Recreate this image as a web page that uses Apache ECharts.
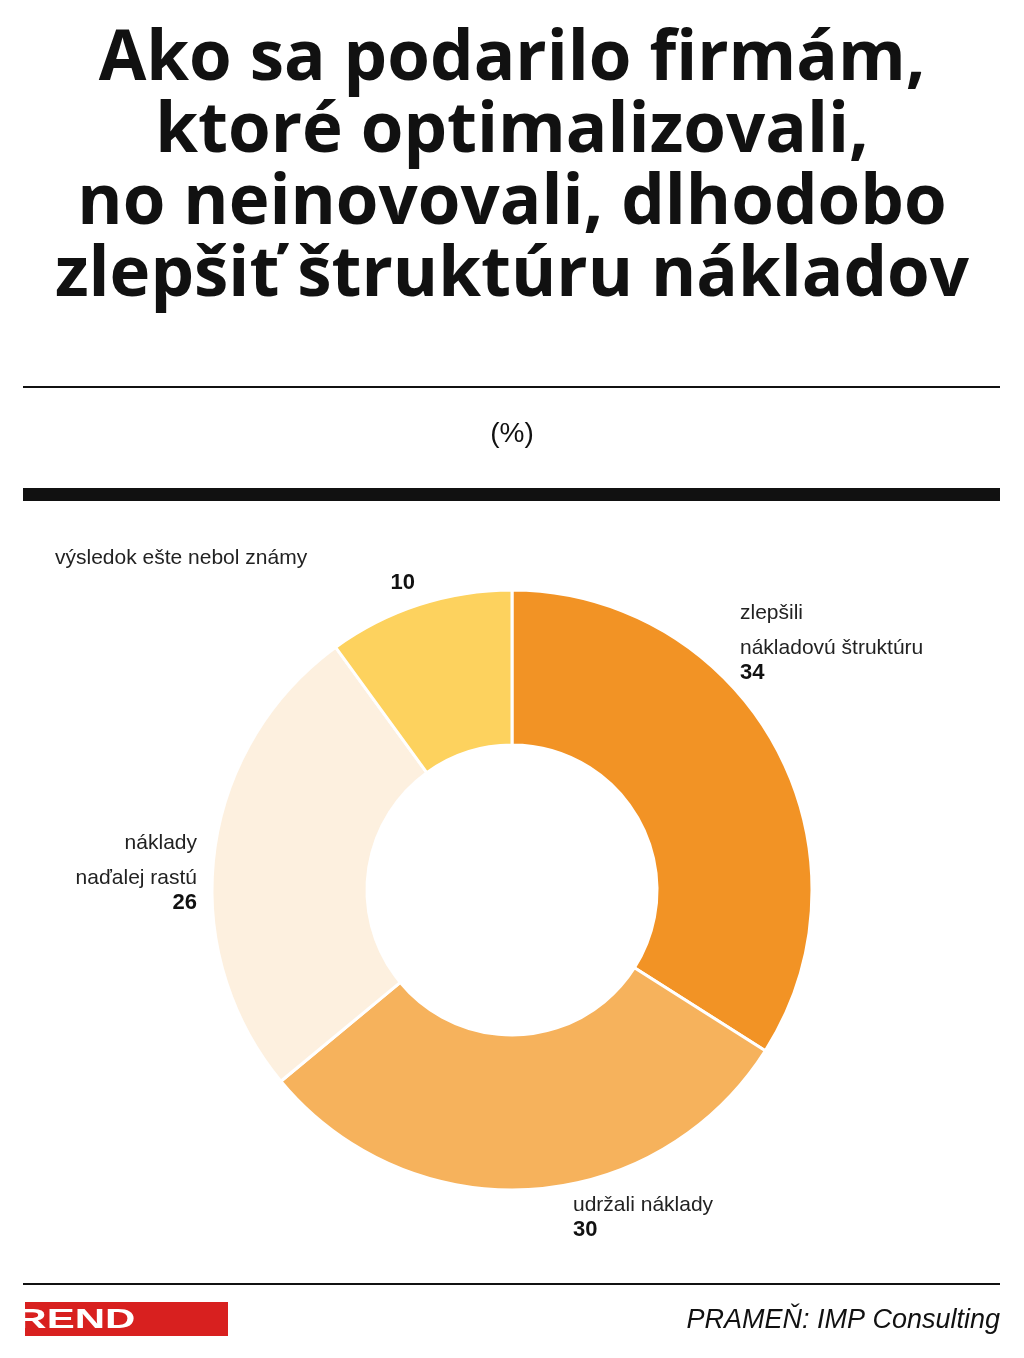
<!DOCTYPE html>
<html><head><meta charset="utf-8">
<script src="https://cdn.jsdelivr.net/npm/echarts@6/dist/echarts.min.js"></script>
<style>html,body{margin:0;padding:0;background:#fff}#c{width:1024px;height:1358px}</style>
</head><body><div id="c"></div>
<script>
const titleLines = ["Ako sa podarilo firmám,", "ktoré optimalizovali,", "no neinovovali, dlhodobo", "zlepšiť štruktúru nákladov"];
const unit = "(%)";
const categories = ["zlepšili\nnákladovú štruktúru", "udržali náklady", "náklady\nnaďalej rastú", "výsledok ešte nebol známy"];
const values = [34, 30, 26, 10];
const colors = ["#F29325", "#F6B25C", "#FDF0DF", "#FDD25E"];
const source = "PRAMEŇ: IMP Consulting";
const brand = "TREND";

const chart = echarts.init(document.getElementById('c'));
const labelPos = [
  {x:740, y:596, align:'left'},
  {x:573, y:1188, align:'left'},
  {x:197, y:826, align:'right'},
  {x:415, y:541, align:'right', oneLine:true}
];
const graphics = [];
titleLines.forEach((t,i)=>graphics.push({type:'text', left:'center', top:26+i*72,
  style:{text:t, font:'bold 69px "Open Sans", "DejaVu Sans", sans-serif', fill:'#111'}}));
graphics.push({type:'rect', shape:{x:23,y:386,width:977,height:2}, style:{fill:'#111'}});
graphics.push({type:'text', left:'center', top:420, style:{text:unit, font:'28px "Liberation Sans", sans-serif', fill:'#111'}});
graphics.push({type:'rect', shape:{x:23,y:488,width:977,height:13}, style:{fill:'#111'}});
categories.forEach((c,i)=>{
  const p = labelPos[i];
  const lines = c.split('\n');
  graphics.push({type:'text', x: p.oneLine ? 55 : p.x, y:p.y,
    style:{text:c, font:'21px "Liberation Sans", sans-serif', fill:'#222', lineHeight:35,
      align: p.oneLine ? 'left' : p.align}});
  graphics.push({type:'text', x:p.x, y:p.y+lines.length*35-4,
    style:{text:String(values[i]), font:'bold 22px "Liberation Sans", sans-serif', fill:'#111', align:p.align}});
});
graphics.push({type:'rect', shape:{x:23,y:1283,width:977,height:2}, style:{fill:'#111'}});
graphics.push({type:'rect', shape:{x:25,y:1302,width:203,height:34}, style:{fill:'#D8201F'}});
graphics.push({type:'text', x:126, y:1320, scaleX:1.5, originX:126, originY:1320, style:{text:brand, font:'bold 28px "Liberation Sans", sans-serif', fill:'#fff', align:'center', verticalAlign:'middle'}});
graphics.push({type:'text', x:1000, y:1320, style:{text:source, font:'italic 27px "Liberation Sans Narrow", "Liberation Sans", sans-serif', fill:'#111', align:'right', verticalAlign:'middle'}});

chart.setOption({
  animation:false,
  graphic: graphics,
  series:[{
    type:'pie', center:[512,890], radius:[145,300], startAngle:90, clockwise:true,
    label:{show:false}, labelLine:{show:false},
    itemStyle:{borderColor:'#fff', borderWidth:3},
    data: categories.map((c,i)=>({name:c, value:values[i], itemStyle:{color:colors[i]}}))
  }]
});
</script></body></html>
